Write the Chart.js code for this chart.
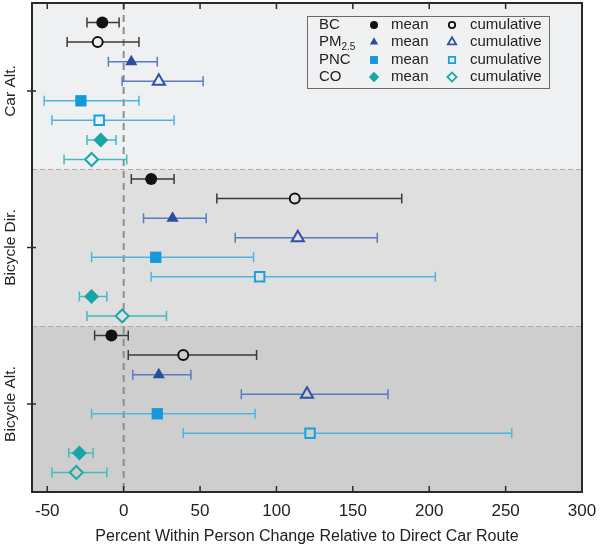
<!DOCTYPE html>
<html><head><meta charset="utf-8">
<script src="https://cdn.jsdelivr.net/npm/chart.js@4/dist/chart.umd.min.js"></script>
<style>html,body{margin:0;padding:0;background:#fff}canvas{display:block}</style>
</head><body>
<canvas id="c" width="600" height="547" style="width:600px;height:547px"></canvas>
<script>
// ---- data ----
const routes = ['Car Alt.', 'Bicycle Dir.', 'Bicycle Alt.'];
const xTicks = [-50, 0, 50, 100, 150, 200, 250, 300];
const pollutants = ['BC', 'PM2.5', 'PNC', 'CO'];

const bcMean = [-14, 18, -8];
const bcMeanCI = [[-24, -3], [5, 33], [-19, 3]];
const bcCum = [-17, 112, 39];
const bcCumCI = [[-37, 10], [61, 182], [3, 87]];
const pmMean = [5, 32, 23];
const pmMeanCI = [[-10, 22], [13, 54], [6, 44]];
const pmCum = [23, 114, 120];
const pmCumCI = [[-1, 52], [73, 166], [77, 173]];
const pncMean = [-28, 21, 22];
const pncMeanCI = [[-52, 10], [-21, 85], [-21, 86]];
const pncCum = [-16, 89, 122];
const pncCumCI = [[-47, 33], [18, 204], [39, 254]];
const coMean = [-15, -21, -29];
const coMeanCI = [[-24, -5], [-29, -11], [-36, -20]];
const coCum = [-21, -1, -31];
const coCumCI = [[-39, 2], [-24, 28], [-47, -11]];

// ---- styles ----
const FONT = '"Liberation Sans", Arial, Helvetica, sans-serif';
const bandFill = ['#eff0f2', '#dfdfdf', '#cecece'];
const series = [
  {vals: bcMean, ci: bcMeanCI, style: 'circle', color: '#111111', err: '#3a3a3a', filled: true, r: 6, lr: 4},
  {vals: bcCum, ci: bcCumCI, style: 'circle', color: '#111111', err: '#3a3a3a', filled: false, r: 5, lr: 3.2},
  {vals: pmMean, ci: pmMeanCI, style: 'triangle', color: '#2b4c9f', err: '#5a7bc3', filled: true, r: 7, lr: 4.8},
  {vals: pmCum, ci: pmCumCI, style: 'triangle', color: '#2f52a6', err: '#5a7bc3', filled: false, r: 7, lr: 4.8},
  {vals: pncMean, ci: pncMeanCI, style: 'rect', color: '#1499dc', err: '#4db5e3', filled: true, r: 8, lr: 5.6},
  {vals: pncCum, ci: pncCumCI, style: 'rect', color: '#1aa0de', err: '#4db5e3', filled: false, r: 6.7, lr: 4.5},
  {vals: coMean, ci: coMeanCI, style: 'rectRot', color: '#17a6a7', err: '#44bcbd', filled: true, r: 7.5, lr: 5.2},
  {vals: coCum, ci: coCumCI, style: 'rectRot', color: '#1aa9aa', err: '#44bcbd', filled: false, r: 6.5, lr: 4.6}
];
const ROWS = series.length;

const datasets = series.map((s, i) => ({
  label: pollutants[Math.floor(i / 2)] + (i % 2 ? ' cumulative' : ' mean'),
  data: s.vals.map((v, b) => ({x: v, y: b * ROWS + i + 1})),
  pointStyle: s.style,
  pointRadius: s.r,
  pointHoverRadius: s.r,
  pointBorderWidth: s.filled ? 0 : 2,
  pointBorderColor: s.color,
  pointBackgroundColor: s.filled ? s.color : bandFill,
  showLine: false
}));

const bgPlugin = {
  id: 'bg',
  beforeDatasetsDraw(chart) {
    const {ctx, chartArea: a, scales: {x, y}} = chart;
    ctx.save();
    routes.forEach((r, b) => {
      const t = b === 0 ? a.top : y.getPixelForValue(b * ROWS + 0.5);
      const bt = b === routes.length - 1 ? a.bottom : y.getPixelForValue((b + 1) * ROWS + 0.5);
      ctx.fillStyle = bandFill[b];
      ctx.fillRect(a.left, t, a.right - a.left, bt - t);
    });
    ctx.strokeStyle = '#b8a89e';
    ctx.lineWidth = 1.2;
    ctx.setLineDash([5, 3]);
    for (let b = 1; b < routes.length; b++) {
      const py = Math.round(y.getPixelForValue(b * ROWS + 0.5)) + 0.5;
      ctx.beginPath(); ctx.moveTo(a.left, py); ctx.lineTo(a.right, py); ctx.stroke();
    }
    ctx.strokeStyle = '#8e8e8e';
    ctx.lineWidth = 2;
    ctx.setLineDash([7, 5]);
    const zx = x.getPixelForValue(0);
    ctx.beginPath(); ctx.moveTo(zx, a.top); ctx.lineTo(zx, a.bottom); ctx.stroke();
    ctx.setLineDash([]);
    series.forEach((s, i) => {
      ctx.strokeStyle = s.err;
      ctx.lineWidth = 1.5;
      s.ci.forEach((c, b) => {
        const py = y.getPixelForValue(b * ROWS + i + 1);
        const x1 = x.getPixelForValue(c[0]), x2 = x.getPixelForValue(c[1]);
        ctx.beginPath();
        ctx.moveTo(x1, py); ctx.lineTo(x2, py);
        ctx.moveTo(x1, py - 5); ctx.lineTo(x1, py + 5);
        ctx.moveTo(x2, py - 5); ctx.lineTo(x2, py + 5);
        ctx.stroke();
      });
    });
    ctx.restore();
  },
  afterDatasetsDraw(chart) {
    const {ctx, chartArea: a, scales: {x, y}} = chart;
    ctx.save();
    ctx.strokeStyle = '#2a2a2a';
    ctx.lineWidth = 2;
    ctx.strokeRect(a.left, a.top, a.right - a.left, a.bottom - a.top);
    ctx.lineWidth = 1.5;
    xTicks.forEach(v => {
      const px = x.getPixelForValue(v);
      ctx.beginPath();
      ctx.moveTo(px, a.bottom); ctx.lineTo(px, a.bottom - 6);
      ctx.moveTo(px, a.top); ctx.lineTo(px, a.top + 6);
      ctx.stroke();
    });
    ctx.fillStyle = '#222';
    ctx.font = '15.5px ' + FONT;
    ctx.textAlign = 'center';
    ctx.textBaseline = 'middle';
    routes.forEach((r, b) => {
      const py = y.getPixelForValue(b * ROWS + (ROWS + 1) / 2);
      ctx.beginPath(); ctx.moveTo(a.left - 5, py); ctx.lineTo(a.left + 4, py); ctx.stroke();
      ctx.save();
      ctx.translate(11, py);
      ctx.rotate(-Math.PI / 2);
      ctx.fillText(r, 0, 0);
      ctx.restore();
    });
    // legend
    const L = {x: 307, y: 16, w: 242, h: 72};
    ctx.fillStyle = '#f0f1f3';
    ctx.fillRect(L.x, L.y, L.w, L.h);
    ctx.strokeStyle = '#6a6a6a';
    ctx.lineWidth = 1;
    ctx.strokeRect(L.x + 0.5, L.y + 0.5, L.w, L.h);
    const rowY = [25, 42, 60, 77];
    ctx.font = '15px ' + FONT;
    ctx.textAlign = 'left';
    ctx.textBaseline = 'middle';
    pollutants.forEach((p, k) => {
      ctx.fillStyle = '#222';
      const ry = rowY[k];
      if (p === 'PM2.5') {
        ctx.fillText('PM', 319, ry);
        const w = ctx.measureText('PM').width;
        ctx.font = '10px ' + FONT;
        ctx.fillText('2.5', 319 + w, ry + 5);
        ctx.font = '15px ' + FONT;
      } else {
        ctx.fillText(p, 319, ry);
      }
      ctx.fillText('mean', 391, ry);
      ctx.fillText('cumulative', 470, ry);
      [0, 1].forEach(j => {
        const s = series[k * 2 + j];
        ctx.fillStyle = s.filled ? s.color : '#f0f1f3';
        ctx.strokeStyle = s.color;
        ctx.lineWidth = s.filled ? 0 : 1.8;
        Chart.helpers.drawPoint(ctx, {pointStyle: s.style, radius: s.lr, borderWidth: s.filled ? 0 : 1.8, rotation: 0}, j ? 452 : 374, ry);
      });
    });
    ctx.restore();
  }
};

const zeroPad = s => { s.paddingLeft = 0; s.paddingRight = 0; s.paddingTop = 0; s.paddingBottom = 0; };

new Chart(document.getElementById('c'), {
  type: 'scatter',
  data: {datasets},
  options: {
    responsive: false,
    animation: false,
    devicePixelRatio: 1,
    events: [],
    layout: {autoPadding: false, padding: {left: 32, right: 18, top: 3, bottom: 0}},
    plugins: {legend: {display: false}, tooltip: {enabled: false}},
    scales: {
      x: {
        type: 'linear', min: -60, max: 300,
        afterBuildTicks: s => { s.ticks = xTicks.map(v => ({value: v})); },
        afterFit: s => { s.height = 55; zeroPad(s); },
        grid: {display: false, drawTicks: false},
        border: {display: false},
        ticks: {color: '#222', autoSkip: false, maxRotation: 0, padding: 9,
                font: {family: FONT, size: 17}},
        title: {display: true, text: 'Percent Within Person Change Relative to Direct Car Route',
                color: '#222', font: {family: FONT, size: 16}, padding: {top: 4, bottom: 1}}
      },
      y: {type: 'linear', min: 0, max: 25, reverse: true, display: false,
          ticks: {display: false}, afterFit: zeroPad}
    }
  },
  plugins: [bgPlugin]
});
</script>
</body></html>
